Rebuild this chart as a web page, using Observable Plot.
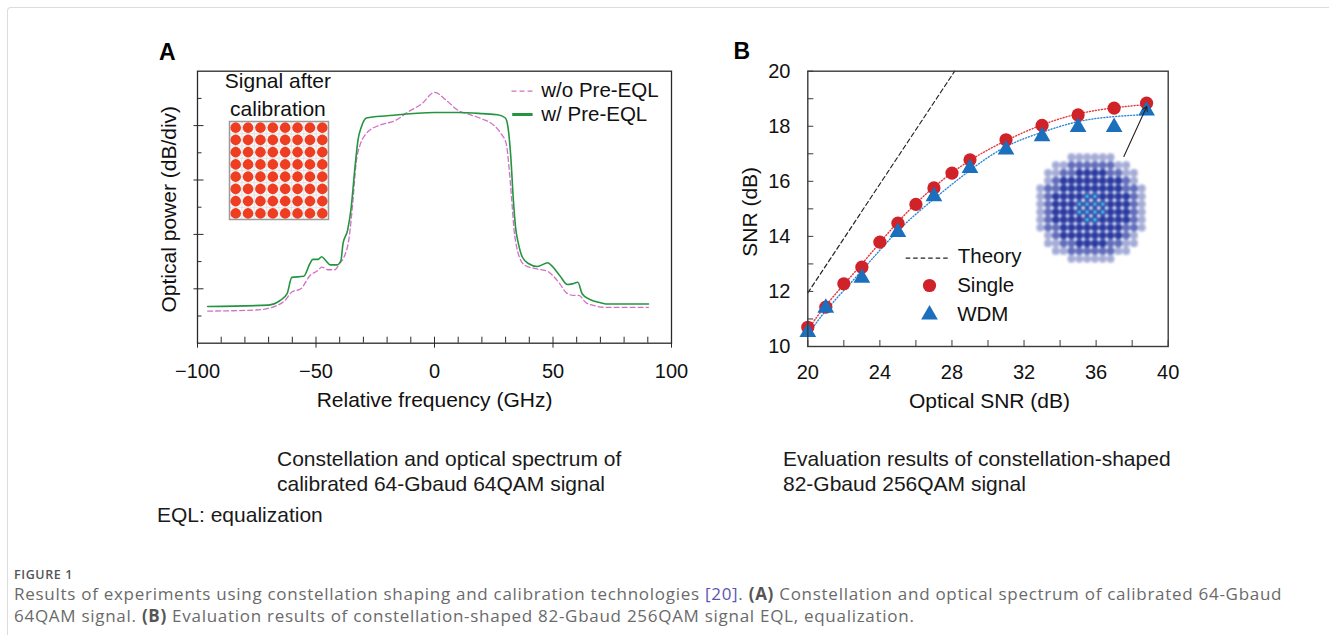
<!DOCTYPE html>
<html><head><meta charset="utf-8">
<script src="https://cdn.jsdelivr.net/npm/d3@7"></script>
<script src="https://cdn.jsdelivr.net/npm/@observablehq/plot@0.6"></script>
<style>
html,body{margin:0;padding:0;background:#fff;}
#root{position:relative;width:1329px;height:635px;overflow:hidden;font-family:"Liberation Sans",Arial,sans-serif;color:#111;}
.abs{position:absolute;white-space:nowrap;}
.border{position:absolute;left:7px;top:7px;width:1400px;height:700px;border-left:1.5px solid #dcdcdc;border-top:1.5px solid #dcdcdc;border-top-left-radius:4px;}
.cap{font-size:21px;line-height:25px;color:#1a1a1a;}
.fig{font-family:"Open Sans",sans-serif;color:#666;}
</style></head><body><div id="root"><div class="border"></div></div>
<script>
// ---------- Panel A: optical spectrum (dB/div units, 0 = bottom of frame) ----------
const freqNoEQL = [-95.7,-75.3,-70.2,-66.6,-63.2,-60.2,-56.4,-52.6,-49.1,-47.6,-44.7,-42.1,-40.1,-38.2,-36.0,-34.5,-33.1,-31.3,-29.4,-27.2,-23.6,-16.3,-11.2,-5.4,0,5.1,9.9,15.0,20.2,25.2,28.1,30.3,31.3,32.5,33.6,34.7,36.1,38.3,42.7,47.8,50.0,52.9,55.8,58.7,60.9,63.8,67.4,71.8,90.3];
const powerNoEQL = [0.59,0.61,0.64,0.69,0.78,0.94,1.00,1.24,1.34,1.40,1.35,1.35,1.46,1.58,1.95,2.57,3.30,3.66,3.82,3.92,4.00,4.10,4.25,4.40,4.61,4.46,4.28,4.20,4.12,4.00,3.85,3.66,3.30,2.68,2.07,1.76,1.55,1.43,1.37,1.32,1.24,1.09,0.92,0.88,0.88,0.75,0.69,0.66,0.66];
const freqEQL = [-95.7,-70.2,-65.3,-62.2,-60.2,-55.2,-52.6,-51.3,-49.1,-47.6,-45.9,-44.0,-41.1,-39.5,-38.6,-36.7,-35.3,-33.4,-32.3,-30.9,-28.7,-20.0,0,10,20.2,26.7,29.9,31.0,32.2,33.2,34.2,35.4,37.1,39.8,43.4,47.8,49.3,52.9,56.1,58.0,60.5,62.3,65.3,70.4,73.3,90.3];
const powerEQL = [0.674,0.70,0.78,0.91,1.21,1.23,1.46,1.54,1.54,1.59,1.52,1.44,1.44,1.52,1.83,2.07,2.44,3.30,3.73,3.97,4.14,4.18,4.24,4.24,4.22,4.20,4.14,3.97,3.42,2.68,2.13,1.83,1.58,1.46,1.41,1.48,1.43,1.24,1.08,1.09,1.12,0.91,0.81,0.74,0.72,0.72];
const freqTickLabels = [-100,-50,0,50,100];
const freqMinorTicks = [-90,-80,-70,-60,-40,-30,-20,-10,10,20,30,40,60,70,80,90];
const powerMajorTicks = [1,2,3,4];
const powerMinorTicks = [0.5,1.5,2.5,3.5,4.5];
const seriesA = ["w/o Pre-EQL","w/ Pre-EQL"];
const qam64Levels = [-7,-5,-3,-1,1,3,5,7];

// ---------- Panel B: SNR vs OSNR ----------
const osnrSingle = [20,21,22,23,24,25,26,27,28,29,31,33,35,37,38.8];
const snrSingle  = [10.70,11.43,12.28,12.88,13.79,14.48,15.16,15.76,16.30,16.78,17.51,18.03,18.41,18.66,18.84];
const osnrWDM = [20,21,23,25,27,29,31,33,35,37,38.8];
const snrWDM  = [10.52,11.40,12.49,14.15,15.45,16.48,17.15,17.63,17.97,17.97,18.57];
const osnrFit = [20,21,23,25,27,29,31,33,35,37,38.8];
const snrFitSingle = [10.58,11.49,13.00,14.52,15.79,16.76,17.48,18.05,18.45,18.67,18.79];
const snrFitWDM    = [10.40,11.30,12.76,14.20,15.36,16.40,17.26,17.78,18.17,18.35,18.43];
const osnrTheory = [20,28.15];
const snrTheory  = [11.95,20];
const osnrTickLabels = [20,24,28,32,36,40];
const osnrTicks = [20,22,24,26,28,30,32,34,36,38,40];
const snrTickLabels = [10,12,14,16,18,20];
const snrTicks = [10,11,12,13,14,15,16,17,18,19,20];
const seriesB = ["Theory","Single","WDM"];
const arrowFrom = [37.54,16.90];
const arrowTo = [38.81,18.72];
const qam256Levels = [-15,-13,-11,-9,-7,-5,-3,-1,1,3,5,7,9,11,13,15];

// ---------- colours ----------
const cGreen = "#23953f", cPink = "#d46fc6", cRed = "#cf2229", cBlue = "#1b6fbc";
const font = "'Liberation Sans', Arial, sans-serif";
const root = document.getElementById("root");
const minus = d => d < 0 ? "\u2212" + (-d) : String(d);

function place(el, left, top) {
  el.style.position = "absolute"; el.style.left = left + "px"; el.style.top = top + "px";
  root.appendChild(el); return el;
}
function addBlur(svg, id, sd) {
  const ns = "http://www.w3.org/2000/svg";
  const defs = document.createElementNS(ns, "defs");
  defs.innerHTML = `<filter id="${id}" x="-20%" y="-20%" width="140%" height="140%"><feGaussianBlur stdDeviation="${sd}"/></filter>`;
  svg.prepend(defs);
  svg.querySelectorAll('g[aria-label="dot"]').forEach(g => g.setAttribute("filter", `url(#${id})`));
}

// ===== Panel A =====
const specNo = freqNoEQL.map((f,i) => ({f, p: powerNoEQL[i]}));
const specEq = freqEQL.map((f,i) => ({f, p: powerEQL[i]}));
const A = Plot.plot({
  width: 560, height: 400,
  marginLeft: 67, marginRight: 19, marginTop: 40.7, marginBottom: 87.3,
  x: {domain: [-100,100]}, y: {domain: [0,5]},
  style: {fontFamily: font, fontSize: "20px", color: "#111", background: "transparent", overflow: "visible"},
  marks: [
    Plot.line(specNo, {x: "f", y: "p", stroke: cPink, strokeWidth: 1.3, strokeDasharray: "5,3", curve: "monotone-x"}),
    Plot.line(specEq, {x: "f", y: "p", stroke: cGreen, strokeWidth: 1.6, curve: "monotone-x"}),
    Plot.frame({stroke: "#2a2a2a", strokeWidth: 1.3}),
    Plot.axisY(powerMajorTicks, {tickSize: 10, dx: 6.5, tickFormat: () => "", label: null, stroke: "#2a2a2a"}),
    Plot.axisY(powerMinorTicks, {tickSize: 4.5, dx: 4.5, tickFormat: () => "", label: null, stroke: "#2a2a2a"}),
    Plot.axisX(freqTickLabels, {tickSize: 11, dy: -6, tickFormat: () => "", label: null, stroke: "#2a2a2a"}),
    Plot.axisX(freqMinorTicks, {tickSize: 6, dy: -6, tickFormat: () => "", label: null, stroke: "#2a2a2a"}),
    Plot.axisX(freqTickLabels, {tickSize: 0, tickPadding: 21, tickFormat: minus, label: null, fontSize: 20, fill: "#111"}),
    Plot.text(["Relative frequency (GHz)"], {text: d => d, frameAnchor: "bottom", dy: 57.3, fontSize: 21, lineAnchor: "middle", textAnchor: "middle", fill: "#111"}),
    Plot.text(["Optical power (dB/div)"], {text: d => d, frameAnchor: "left", dx: -28, dy: 2, rotate: -90, fontSize: 21, lineAnchor: "middle", textAnchor: "middle", fill: "#111"}),
    // inset title
    Plot.text(["Signal after"], {text: d => d, frameAnchor: "top-left", dx: 80.4, dy: 10.3, fontSize: 21, lineAnchor: "middle", textAnchor: "middle", fill: "#111"}),
    Plot.text(["calibration"], {text: d => d, frameAnchor: "top-left", dx: 80.4, dy: 37.6, fontSize: 21, lineAnchor: "middle", textAnchor: "middle", fill: "#111"}),
    // legend
    Plot.ruleY([4.632], {y: d => d, x1: 32.7, x2: 42.2, stroke: cPink, strokeWidth: 1.3, strokeDasharray: "5,3"}),
    Plot.ruleY([4.204], {y: d => d, x1: 33.0, x2: 41.6, stroke: cGreen, strokeWidth: 3}),
    Plot.text([seriesA[0]], {text: d => d, frameAnchor: "top-left", dx: 343.8, dy: 19.6, fontSize: 20.5, lineAnchor: "middle", textAnchor: "start", fill: "#111"}),
    Plot.text([seriesA[1]], {text: d => d, frameAnchor: "top-left", dx: 343.8, dy: 43.6, fontSize: 20.5, lineAnchor: "middle", textAnchor: "start", fill: "#111"}),
    Plot.text(["A"], {text: d => d, frameAnchor: "top-left", dx: -38.4, dy: -18.5, fontSize: 23, fontWeight: "bold", lineAnchor: "middle", textAnchor: "start", fill: "#000"})
  ]
});
place(A, 130, 30);

// 64QAM constellation inset
const pts64 = d3.cross(qam64Levels, qam64Levels).map(([i,q]) => ({i,q}));
const gridLines64 = d3.range(-8, 8.01, 1);
const C64 = Plot.plot({
  width: 99, height: 98, margin: 0,
  x: {domain: [-8,8], axis: null}, y: {domain: [-8,8], axis: null},
  style: {background: "transparent", overflow: "visible"},
  marks: [
    Plot.frame({fill: "#f8f8f8", stroke: null}),
    Plot.gridX(gridLines64, {stroke: "#d6d6d6", strokeOpacity: 1, strokeWidth: 0.6}),
    Plot.gridY(gridLines64, {stroke: "#d6d6d6", strokeOpacity: 1, strokeWidth: 0.6}),
    Plot.dot(pts64, {x: "i", y: "q", r: 5.3, fill: "#ef3e22", fillOpacity: 1}),
    Plot.frame({stroke: "#9a9a9a", strokeWidth: 1.5})
  ]
});
place(C64, 228.5, 121);
addBlur(C64, "blur64", 0.55);

// ===== Panel B =====
const single = osnrSingle.map((o,i) => ({o, s: snrSingle[i]}));
const wdm = osnrWDM.map((o,i) => ({o, s: snrWDM[i]}));
const fitS = osnrFit.map((o,i) => ({o, s: snrFitSingle[i]}));
const fitW = osnrFit.map((o,i) => ({o, s: snrFitWDM[i]}));
const theory = osnrTheory.map((o,i) => ({o, s: snrTheory[i]}));
const B = Plot.plot({
  width: 480, height: 400,
  marginLeft: 92.3, marginRight: 27.3, marginTop: 40.7, marginBottom: 84,
  x: {domain: [20,40]}, y: {domain: [10,20]},
  style: {fontFamily: font, fontSize: "20px", color: "#111", background: "transparent", overflow: "visible"},
  marks: [
    Plot.line(theory, {x: "o", y: "s", stroke: "#222", strokeWidth: 1.2, strokeDasharray: "4.5,3"}),
    Plot.line(fitS, {x: "o", y: "s", stroke: "#e8333b", strokeWidth: 1.4, strokeDasharray: "1,2", curve: "natural"}),
    Plot.line(fitW, {x: "o", y: "s", stroke: "#2d86d6", strokeWidth: 1.4, strokeDasharray: "1,2", curve: "natural"}),
    Plot.dot(single, {x: "o", y: "s", r: 6.6, fill: cRed, symbol: "circle"}),
    Plot.dot(wdm, {x: "o", y: "s", r: 6.2, fill: cBlue, symbol: "triangle"}),
    Plot.arrow([{a: arrowFrom, b: arrowTo}], {x1: d => d.a[0], y1: d => d.a[1], x2: d => d.b[0], y2: d => d.b[1], stroke: "#222", strokeWidth: 1.1, headLength: 7}),
    Plot.frame({stroke: "#3a3a3a", strokeWidth: 1.4}),
    Plot.axisY(snrTicks, {tickSize: 6, dx: 6, tickFormat: () => "", label: null, stroke: "#3a3a3a"}),
    Plot.axisX(osnrTicks, {tickSize: 6, dy: -6, tickFormat: () => "", label: null, stroke: "#3a3a3a"}),
    Plot.axisY(snrTickLabels, {tickSize: 0, tickPadding: 17.3, label: null, fontSize: 20, fill: "#111"}),
    Plot.axisX(osnrTickLabels, {tickSize: 0, tickPadding: 18, label: null, fontSize: 20, fill: "#111"}),
    Plot.text(["Optical SNR (dB)"], {text: d => d, frameAnchor: "bottom", dy: 55, dx: 1.5, fontSize: 21, lineAnchor: "middle", textAnchor: "middle", fill: "#111"}),
    Plot.text(["SNR (dB)"], {text: d => d, frameAnchor: "left", dx: -57.6, dy: 3, rotate: -90, fontSize: 21, lineAnchor: "middle", textAnchor: "middle", fill: "#111"}),
    // legend
    Plot.ruleY([13.21], {y: d => d, x1: 25.46, x2: 27.92, stroke: "#222", strokeWidth: 1.2, strokeDasharray: "4.5,3"}),
    Plot.dot([seriesB[1]], {frameAnchor: "top-left", dx: 121.7, dy: 214.3, r: 6.6, fill: cRed, symbol: "circle"}),
    Plot.dot([seriesB[2]], {frameAnchor: "top-left", dx: 121.7, dy: 243.5, r: 6.2, fill: cBlue, symbol: "triangle"}),
    Plot.text([seriesB[0]], {text: d => d, frameAnchor: "top-left", dx: 150, dy: 185.5, fontSize: 20.5, lineAnchor: "middle", textAnchor: "start", fill: "#111"}),
    Plot.text([seriesB[1]], {text: d => d, frameAnchor: "top-left", dx: 149.4, dy: 214, fontSize: 20.5, lineAnchor: "middle", textAnchor: "start", fill: "#111"}),
    Plot.text([seriesB[2]], {text: d => d, frameAnchor: "top-left", dx: 149.4, dy: 243.5, fontSize: 20.5, lineAnchor: "middle", textAnchor: "start", fill: "#111"}),
    Plot.text(["B"], {text: d => d, frameAnchor: "top-left", dx: -74.3, dy: -20, fontSize: 23, fontWeight: "bold", lineAnchor: "middle", textAnchor: "start", fill: "#000"})
  ]
});
place(B, 715, 30);

// 256QAM shaped constellation inset
const pts256 = d3.cross(qam256Levels, qam256Levels).map(([i,q]) => ({i, q, r: Math.hypot(i,q)})).filter(d => d.r <= 14.3);
const C256 = Plot.plot({
  width: 125, height: 125, margin: 0,
  x: {domain: [-16,16], axis: null}, y: {domain: [-16,16], axis: null},
  style: {background: "transparent", overflow: "visible"},
  marks: [
    Plot.dot(pts256, {x: "i", y: "q", r: 3.9, fill: "#1f2e9c", fillOpacity: d => d.r > 12.5 ? 0.4 : (d.r > 10 ? 0.7 : 0.95)}),
    Plot.dot(pts256.filter(d => Math.abs(d.i) + Math.abs(d.q) <= 4), {x: "i", y: "q", r: 1.9, fill: "#3fdcf2"})
  ]
});
place(C256, 1027.5, 144.5);
addBlur(C256, "blur256", 1.1);

// ===== captions =====
function div(html, cls, left, top, style) {
  const d = document.createElement("div"); d.className = "abs " + (cls || ""); d.innerHTML = html;
  if (style) d.style.cssText += style; return place(d, left, top);
}
div("Constellation and optical spectrum of<br>calibrated 64-Gbaud 64QAM signal", "cap", 277, 445.7);
div("Evaluation results of constellation-shaped<br>82-Gbaud 256QAM signal", "cap", 783, 445.7);
div("EQL: equalization", "cap", 157, 502.2);
div("FIGURE 1", "fig", 14, 566.6, "font-size:12.5px;line-height:16px;letter-spacing:0.6px;font-weight:600;color:#555;");
div('Results of experiments using constellation shaping and calibration technologies <span style="color:#5b55b0">[20]</span>. <b style="color:#555">(A)</b> Constellation and optical spectrum of calibrated 64-Gbaud<br>64QAM signal. <b style="color:#555">(B)</b> Evaluation results of constellation-shaped 82-Gbaud 256QAM signal EQL, equalization.',
  "fig", 14, 583.3, "font-size:17px;line-height:22px;letter-spacing:0.72px;color:#6a6a6a;");
</script></body></html>
